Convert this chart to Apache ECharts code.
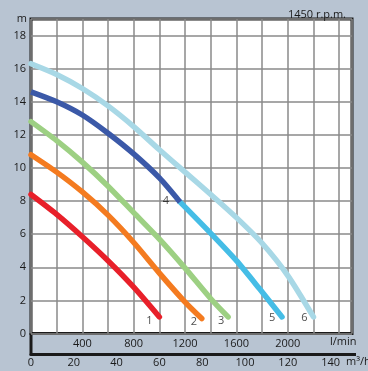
<!DOCTYPE html>
<html lang="en">
<head>
    <meta charset="UTF-8">
    <title>Pump curves 1450 rpm</title>
    <script src="https://cdn.jsdelivr.net/npm/echarts@6/dist/echarts.min.js"></script>
    <style>
        html, body {
            margin: 0;
            padding: 0;
            background: #b8c4d2;
        }
        #box {
            width: 368px;
            height: 371px;
        }
    </style>
</head>
<body>
<div id="box"></div>
<script>
    // curves: [flow l/min, head m]
    var curve1 = [[0, 8.4], [200, 7.2], [400, 5.85], [600, 4.4], [800, 2.8], [1000, 1.0]];
    var curve2 = [[0, 10.8], [200, 9.75], [400, 8.55], [600, 7.15], [800, 5.5], [1000, 3.65], [1200, 1.9], [1330, 0.9]];
    var curve3 = [[0, 12.8], [200, 11.65], [400, 10.35], [600, 8.9], [800, 7.3], [1000, 5.7], [1200, 3.95],
        [1400, 2.1], [1535, 1.0]];
    var curve4 = [[0, 14.6], [200, 14.0], [400, 13.2], [600, 12.1], [800, 10.85], [1000, 9.4], [1160, 7.95]];
    var curve5 = [[1160, 7.95], [1400, 6.05], [1600, 4.4], [1780, 2.7], [1955, 1.0]];
    var curve6 = [[0, 16.3], [200, 15.65], [400, 14.8], [600, 13.75], [800, 12.5], [1000, 11.1], [1200, 9.75],
        [1400, 8.4], [1600, 7.0], [1800, 5.45], [2000, 3.5], [2200, 1.0]];

    var curveNames = ['1', '2', '3', '4', '5', '6'];
    var headTicks = [0, 2, 4, 6, 8, 10, 12, 14, 16, 18];
    var flowTicks = [400, 800, 1200, 1600, 2000];
    var m3hTicks = [0, 20, 40, 60, 80, 100, 120, 140];

    var colors = ['#e8202a', '#f47b20', '#9dd083', '#3b59a8', '#45bde6', '#a8d8e6'];
    // where each number sits next to its curve end
    var labelOffsets = [[-10, 4], [-8, 3], [-7, 4], [-14, -1], [-10, 1], [-9, 1]];

    var curves = [curve1, curve2, curve3, curve4, curve5, curve6];
    var font = '"Open Sans", "DejaVu Sans", sans-serif';

    function lineSeries(i, cap, z) {
        return {
            name: curveNames[i],
            type: 'line',
            data: curves[i],
            smooth: 0.25,
            showSymbol: false,
            symbol: 'none',
            z: z,
            lineStyle: {width: 5.5, color: colors[i], cap: cap}
        };
    }

    var labelData = curves.map(function (c, i) {
        var p = c[c.length - 1];
        return {
            value: p,
            name: curveNames[i],
            label: {offset: labelOffsets[i]}
        };
    });

    var myChart = echarts.init(document.getElementById('box'));
    var option = {
        backgroundColor: '#b8c4d2',
        animation: false,
        title: {
            text: '1450 r.p.m.',
            right: 17,
            top: 4,
            textStyle: {fontFamily: font, fontSize: 11, fontWeight: 'normal', color: '#1a1a1a'}
        },
        grid: {
            left: 31,
            right: 16,
            top: 19,
            bottom: 37.5,
            show: true,
            backgroundColor: '#ffffff',
            borderColor: '#1a1a1a',
            borderWidth: 3
        },
        xAxis: [
            {
                type: 'value',
                min: 0,
                max: 2500,
                interval: 200,
                axisLine: {show: false},
                axisTick: {show: false},
                splitLine: {show: true, lineStyle: {color: '#8a8a8a', width: 1.5}},
                axisLabel: {
                    margin: 5,
                    fontFamily: font,
                    fontSize: 11,
                    color: '#1a1a1a',
                    formatter: function (v) {
                        return flowTicks.indexOf(v) >= 0 ? String(v) : '';
                    }
                }
            },
            {
                type: 'value',
                position: 'bottom',
                offset: 21,
                min: 0,
                max: 150,
                interval: 20,
                axisLine: {show: true, lineStyle: {color: '#1a1a1a', width: 3}},
                axisTick: {show: false},
                splitLine: {show: false},
                axisLabel: {
                    margin: 3,
                    fontFamily: font,
                    fontSize: 11,
                    color: '#1a1a1a',
                    showMinLabel: true,
                    formatter: function (v) {
                        return m3hTicks.indexOf(v) >= 0 ? String(v) : '';
                    }
                }
            }
        ],
        yAxis: {
            type: 'value',
            min: 0,
            max: 19,
            interval: 2,
            axisLine: {show: false},
            axisTick: {show: false},
            splitLine: {show: true, lineStyle: {color: '#8a8a8a', width: 1.5}},
            axisLabel: {
                margin: 5,
                fontFamily: font,
                fontSize: 11,
                color: '#1a1a1a',
                formatter: function (v) {
                    return headTicks.indexOf(v) >= 0 ? String(v) : '';
                }
            }
        },
        graphic: [
            // left frame continues down through the l/min strip
            {type: 'line', shape: {x1: 31, y1: 333, x2: 31, y2: 355.5}, style: {stroke: '#1a1a1a', lineWidth: 3}},
            {type: 'line', shape: {x1: 350, y1: 354.5, x2: 356, y2: 354.5}, style: {stroke: '#1a1a1a', lineWidth: 3}},
            {type: 'text', right: 341, top: 13, style: {text: 'm', font: '11px ' + font, fill: '#1a1a1a'}},
            {type: 'text', left: 330, top: 336, style: {text: 'l/min', font: '11px ' + font, fill: '#1a1a1a'}},
            {type: 'text', left: 346, top: 356, style: {text: 'm³/h', font: '11px ' + font, fill: '#1a1a1a'}}
        ],
        series: [
            lineSeries(0, 'round', 2),
            lineSeries(1, 'round', 2),
            lineSeries(2, 'round', 2),
            lineSeries(4, 'round', 2),
            lineSeries(3, 'butt', 3),
            lineSeries(5, 'round', 2),
            {
                name: 'labels',
                type: 'scatter',
                data: labelData,
                symbolSize: 1,
                z: 4,
                itemStyle: {color: 'rgba(0,0,0,0)'},
                label: {
                    show: true,
                    position: 'inside',
                    formatter: '{b}',
                    fontFamily: font,
                    fontSize: 11,
                    color: '#1a1a1a'
                }
            }
        ]
    };
    myChart.setOption(option);
</script>
</body>
</html>
